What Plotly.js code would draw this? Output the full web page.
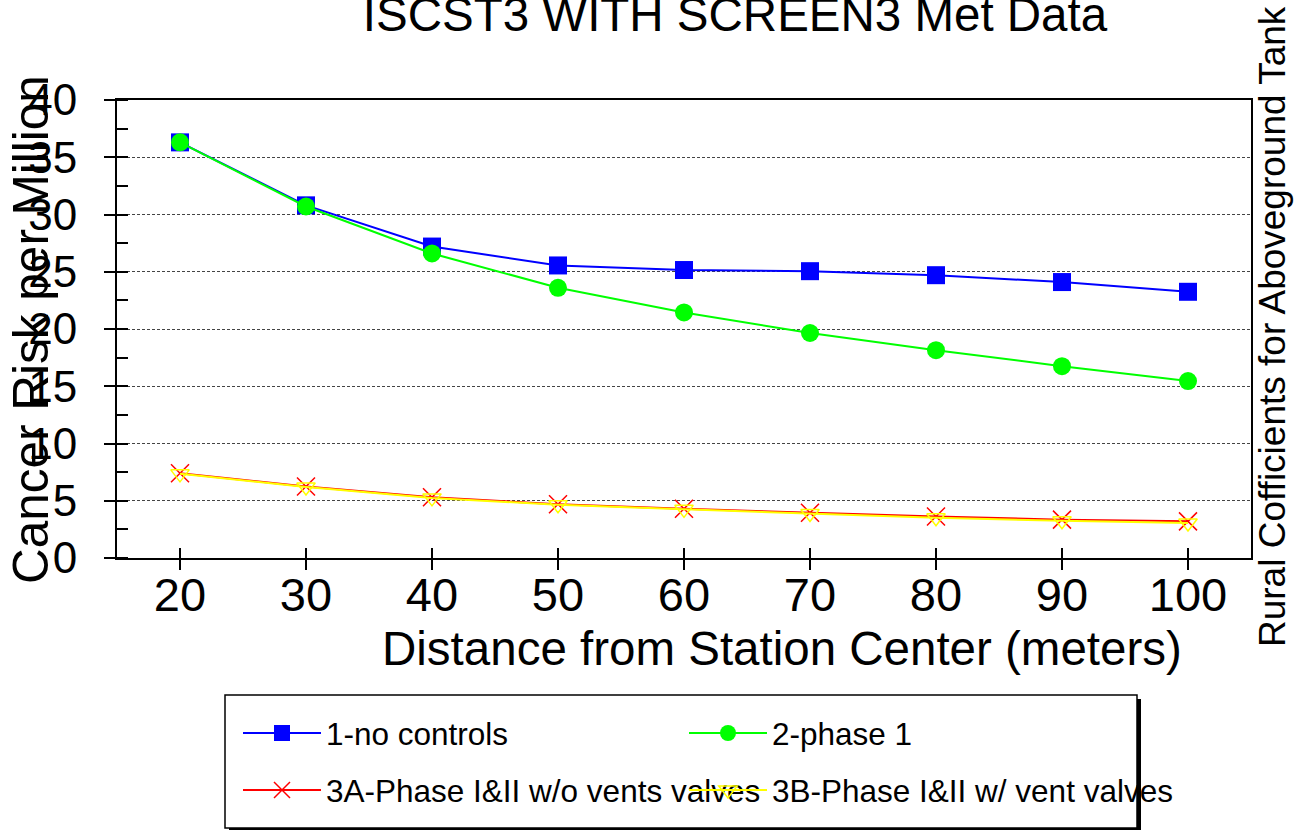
<!DOCTYPE html>
<html>
<head>
<meta charset="utf-8">
<script src="https://cdn.plot.ly/plotly-3.0.1.min.js"></script>
<style>html,body{margin:0;padding:0;background:#fff;}#chart{width:1296px;height:830px;}</style>
</head>
<body>
<div id="chart"></div>
<script>
const distance = [20, 30, 40, 50, 60, 70, 80, 90, 100];
const noControls = [36.3, 30.8, 27.2, 25.55, 25.15, 25.05, 24.7, 24.1, 23.25];
const phase1 = [36.3, 30.7, 26.6, 23.6, 21.45, 19.65, 18.15, 16.75, 15.45];
const phase3A = [7.4, 6.25, 5.3, 4.7, 4.3, 3.95, 3.62, 3.35, 3.2];
const phase3B = [7.35, 6.2, 5.25, 4.65, 4.25, 3.88, 3.52, 3.25, 3.05];
const seriesNames = ["1-no controls", "2-phase 1", "3A-Phase I&II w/o vents valves", "3B-Phase I&II w/ vent valves"];
const chartTitle = "ISCST3 WITH SCREEN3 Met Data";
const xTitle = "Distance from Station Center (meters)";
const yTitle = "Cancer Risk per Million";
const y2Title = "Rural Cofficients for Aboveground Tank";

const FONT = "Liberation Sans, Arial, sans-serif";
const W = 1296, H = 830;
const L = 117, R = 1251, T = 100, B = 558;
const pw = R - L, ph = B - T;
const px = v => (v - L) / pw;
const py = v => (B - v) / ph;

const traces = [
  {x: distance, y: noControls, name: seriesNames[0], mode: 'lines+markers', legend: 'legend',
   line: {color: '#0000ff', width: 2}, marker: {symbol: 'square', size: 18, color: '#0000ff'}},
  {x: distance, y: phase1, name: seriesNames[1], mode: 'lines+markers', legend: 'legend2',
   line: {color: '#00ff00', width: 2}, marker: {symbol: 'circle', size: 18, color: '#00ff00'}},
  {x: distance, y: phase3A, name: seriesNames[2], mode: 'lines+markers', legend: 'legend3',
   line: {color: '#ff0000', width: 2}, marker: {symbol: 'x-thin-open', size: 18, line: {color: '#ff0000', width: 1.5}}},
  {x: distance, y: phase3B, name: seriesNames[3], mode: 'lines+markers', legend: 'legend4', xaxis: 'x2', yaxis: 'y2',
   line: {color: '#ffff00', width: 2}, marker: {symbol: 'triangle-down-open', size: 16, line: {color: '#ffff00', width: 1.5}}}
];

const legFont = {family: FONT, size: 31.5, color: '#000'};
function leg(xPix, yPix) {
  return {orientation: 'h', x: px(xPix), xanchor: 'left', y: py(yPix), yanchor: 'middle',
          font: legFont, bgcolor: 'rgba(0,0,0,0)', borderwidth: 0, itemwidth: 78};
}

const layout = {
  width: W, height: H,
  margin: {l: L, r: W - R, t: T, b: H - B, autoexpand: false},
  paper_bgcolor: '#fff', plot_bgcolor: '#fff',
  showlegend: true,
  title: {text: chartTitle, font: {family: FONT, size: 47.5, color: '#000'},
          x: 735 / W, xref: 'container', xanchor: 'center', y: 1 - 14 / H, yref: 'container', yanchor: 'middle'},
  xaxis: {range: [15, 105], tickvals: distance, ticks: 'outside', ticklen: 10, tickwidth: 2, tickcolor: '#000',
          showline: true, linewidth: 2, linecolor: '#000', mirror: true, showgrid: false, zeroline: false,
          tickfont: {family: FONT, size: 47, color: '#000'}, ticklabelstandoff: -15},
  yaxis: {range: [0, 40], dtick: 5, ticks: 'outside', ticklen: 11, tickwidth: 2, tickcolor: '#000',
          showline: true, linewidth: 2, linecolor: '#000', mirror: true,
          showgrid: true, gridcolor: '#444', griddash: '3px,2px', gridwidth: 1, zeroline: false,
          tickfont: {family: FONT, size: 44, color: '#000'}, ticklabelstandoff: 18,
          minor: {dtick: 2.5, ticks: 'inside', ticklen: 11, tickwidth: 2, tickcolor: '#000', showgrid: false}},
  xaxis2: {range: [15, 105], tickvals: distance, ticks: 'inside', ticklen: 10, tickwidth: 2, tickcolor: '#000',
           overlaying: 'x', anchor: 'y2', side: 'bottom', showticklabels: false, showgrid: false, zeroline: false, showline: false},
  yaxis2: {range: [0, 40], dtick: 5, ticks: 'inside', ticklen: 11, tickwidth: 2, tickcolor: '#000',
           overlaying: 'y', anchor: 'x2', side: 'left', showticklabels: false, showgrid: false, zeroline: false, showline: false},
  legend: leg(238, 733),
  legend2: leg(684, 733),
  legend3: leg(238, 790),
  legend4: leg(684, 790),
  shapes: [
    {type: 'rect', xref: 'paper', yref: 'paper', x0: px(229), x1: px(1141), y0: py(699), y1: py(832),
     fillcolor: '#000', line: {width: 0}, layer: 'above'},
    {type: 'rect', xref: 'paper', yref: 'paper', x0: px(225), x1: px(1137), y0: py(695), y1: py(828),
     fillcolor: '#fff', line: {color: '#000', width: 1.5}, layer: 'above'}
  ],
  annotations: [
    {text: xTitle, xref: 'paper', yref: 'paper', x: px(782), y: py(648), xanchor: 'center', yanchor: 'middle',
     showarrow: false, font: {family: FONT, size: 47.5, color: '#000'}},
    {text: yTitle, xref: 'paper', yref: 'paper', x: px(30), y: py(330), xanchor: 'center', yanchor: 'middle',
     textangle: -90, showarrow: false, font: {family: FONT, size: 49.5, color: '#000'}},
    {text: y2Title, xref: 'paper', yref: 'paper', x: px(1272), y: py(327), xanchor: 'center', yanchor: 'middle',
     textangle: -90, showarrow: false, font: {family: FONT, size: 37, color: '#000'}}
  ]
};

Plotly.newPlot('chart', traces, layout, {displayModeBar: false, staticPlot: true});
</script>
</body>
</html>
